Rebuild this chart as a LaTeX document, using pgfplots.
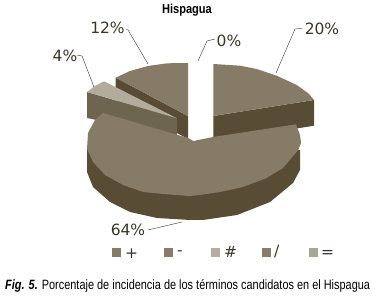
\documentclass[border=0pt]{standalone}
\usepackage{fontspec}
\setmainfont{Liberation Sans}
\newfontfamily\lab{DejaVu Sans}
\usepackage{graphicx}
\usepackage{pgfplots}
\pgfplotsset{compat=1.18}
\definecolor{topc}{HTML}{857B66}
\definecolor{sidec}{HTML}{584C34}
\definecolor{ltop}{HTML}{B3AC9C}
\definecolor{lside}{HTML}{6E6550}
\definecolor{legb}{HTML}{8A7C68}
\definecolor{legc}{HTML}{B5AEA0}
\definecolor{lege}{HTML}{AAA595}
\definecolor{txt}{HTML}{3A3528}
\tikzset{lbl/.style={font=\lab\fontsize{15.5}{16}\selectfont,text=txt,inner sep=0pt}}
\begin{document}
\begin{tikzpicture}
\path (0,0) rectangle (372pt,296pt);
\begin{axis}[width=372pt,height=296pt,scale only axis,axis lines=none,
  xmin=0,xmax=372,ymin=0,ymax=296,y dir=reverse,clip=false]
% 12% slice
\addplot[fill=sidec,draw=none] coordinates {(115.7,77.7)(188,116)(188,139)(115.7,100)} --cycle;
\addplot[fill=topc,draw=none] coordinates {(188,116)(188,63)(167,63.3)(148,66)(130,71)(115.7,77.7)} --cycle;
% 4% slice
\addplot[fill=lside,draw=none] coordinates {(87,92)(177,118.3)(177,137)(87,118)} --cycle;
\addplot[fill=ltop,draw=none] coordinates {(177,118.3)(105,81.7)(103,81.7)(95,86)(87,92)} --cycle;
% 20% slice
\addplot[fill=sidec,draw=none] coordinates {(213.3,116)(314,100)(314,125.7)(213.3,142)} --cycle;
\addplot[fill=topc,draw=none] coordinates {(213.3,116)(213.3,64)(240,65.7)(256.7,69)(276.7,75.7)(296.7,85)(308.3,93.3)(314,100)} --cycle;
% 64% slice
\addplot[fill=sidec,draw=none] coordinates {(87,149)(87,172)(93,187)(110,202)(130,212)(157,218)(190,220)(203,220)(237,215)(270,202)(293,183)(300,170)(300,150)(298,150)(200,170)} --cycle;
\addplot[fill=topc,draw=none] coordinates {(193.3,141)(188,138)(103,113)(95,120)(88,133)(87,149)(93,162)(105,175)(123,185)(143,192)(163,194)(190,196)(200,195)(220,192)(243,187)(266.7,178)(283,168)(298.3,150)(301,143)(300,135)(296,124.3)(213,137)} --cycle;
% leaders
\addplot[draw=txt,line width=0.4pt] coordinates {(276,73)(295,29)(302,28.5)};
\addplot[draw=txt,line width=0.4pt] coordinates {(148,64)(128,30)(126,29)};
\addplot[draw=txt,line width=0.4pt] coordinates {(198,61)(207,41)(215,39)};
\addplot[draw=txt,line width=0.4pt] coordinates {(94,87)(82,56)(77,55)};
\addplot[draw=txt,line width=0.4pt] coordinates {(182,222)(148,230)};
% legend squares
\addplot[only marks,mark=square*,mark size=4pt,color=topc] coordinates {(116,252)};
\addplot[only marks,mark=square*,mark size=4pt,color=legb] coordinates {(168.5,252)};
\addplot[only marks,mark=square*,mark size=4pt,color=legc] coordinates {(215,252)};
\addplot[only marks,mark=square*,mark size=4pt,color=legb] coordinates {(266,252)};
\addplot[only marks,mark=square*,mark size=4pt,color=lege] coordinates {(313,252)};
% value labels
\node[lbl] at (axis cs:322,29) {20\%};
\node[lbl] at (axis cs:107.5,28) {12\%};
\node[lbl] at (axis cs:229,41) {0\%};
\node[lbl] at (axis cs:65,56) {4\%};
\node[lbl] at (axis cs:128,230) {64\%};
% legend labels
\node[lbl,anchor=west] at (axis cs:125,253.5) {+};
\node[lbl,anchor=west] at (axis cs:177,253) {-};
\node[lbl,anchor=west] at (axis cs:224,252) {\#};
\node[lbl,anchor=west] at (axis cs:274,252) {/};
\node[lbl,anchor=west] at (axis cs:321,253.5) {=};
% title and caption
\node[font=\fontsize{13}{14}\selectfont\bfseries,text=black] at (axis cs:187,10) {\scalebox{0.85}[1]{Hispagua}};
\node[anchor=west,inner sep=0pt,font=\fontsize{13.5}{14}\selectfont,text=black] at (axis cs:5,285.5) {\scalebox{0.81}[1]{\textbf{\textit{Fig. 5.}} Porcentaje de incidencia de los términos candidatos en el Hispagua}};
\end{axis}
\end{tikzpicture}
\end{document}
